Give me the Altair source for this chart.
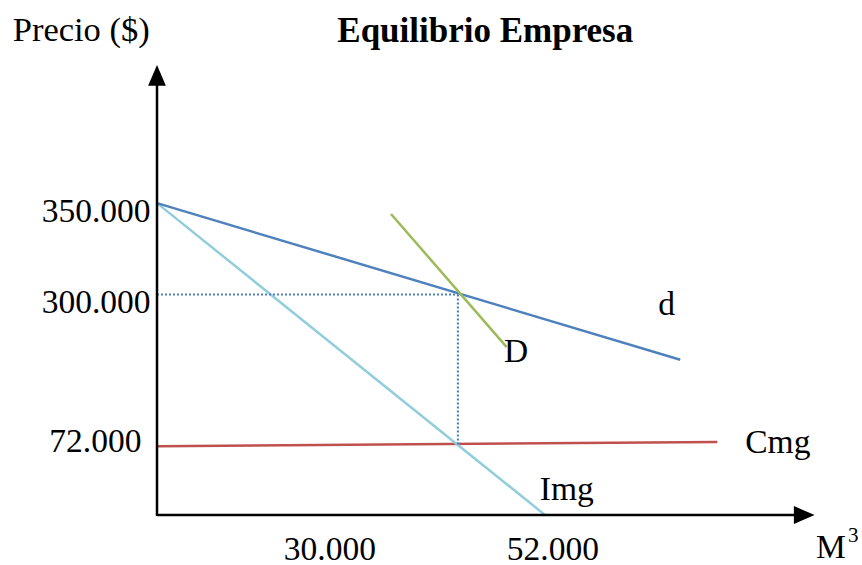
import altair as alt
import pandas as pd

# Schematic coordinates (abstract units: quantity 0-100, price 0-100)
d_x = [0.0, 80.5]
d_y = [69.3, 34.5]
img_x = [0.0, 59.7]
img_y = [69.3, 0.0]
D_x = [36.0, 53.8]
D_y = [66.9, 37.3]
cmg_x = [0.15, 86.2]
cmg_y = [15.3, 16.2]
eq_x = 46.3
eq_y = 49.0
eq_cmg_y = 15.6

y_tick_labels = ["350.000", "300.000", "72.000"]
y_tick_x = [-1.0, -1.0, -2.4]
y_tick_y = [67.3, 47.1, 16.2]
x_tick_labels = ["30.000", "52.000"]
x_tick_x = [26.6, 60.9]
x_tick_y = [-7.8, -7.8]

curve_labels = ["d", "D", "Cmg", "Img"]
curve_label_x = [77.1, 53.4, 90.5, 58.9]
curve_label_y = [46.7, 36.2, 16.0, 5.6]

FONT = "Liberation Serif"
FS = 33.5

xs = alt.Scale(domain=[0, 100], nice=False, zero=False)
ys = alt.Scale(domain=[0, 100], nice=False, zero=False)


def line_layer(xv, yv, color, width=2.5, dash=None):
    df = pd.DataFrame({"x": xv, "y": yv, "o": list(range(len(xv)))})
    kw = dict(color=color, strokeWidth=width, clip=False)
    if dash:
        kw["strokeDash"] = dash
    return alt.Chart(df).mark_line(**kw).encode(
        x=alt.X("x:Q", scale=xs, axis=None),
        y=alt.Y("y:Q", scale=ys, axis=None),
        order="o:Q",
    )


def text_layer(labels, xv, yv, align, size=FS, weight="normal", baseline="middle"):
    df = pd.DataFrame({"t": labels, "x": xv, "y": yv})
    return alt.Chart(df).mark_text(
        font=FONT, fontSize=size, fontWeight=weight, align=align,
        baseline=baseline, color="black"
    ).encode(
        x=alt.X("x:Q", scale=xs, axis=None),
        y=alt.Y("y:Q", scale=ys, axis=None),
        text="t:N",
    )


# axes
y_axis = line_layer([0, 0], [-0.2, 97.0], "black", 2.5)
x_axis = line_layer([0, 99.0], [0, 0], "black", 2.5)
arrows = alt.Chart(pd.DataFrame({
    "x": [0.0, 99.5], "y": [97.6, 0.0],
    "s": ["M0,-1L-0.82,0.91L0.82,0.91Z", "M1,0L-0.91,-0.82L-0.91,0.82Z"],
})).mark_point(filled=True, color="black", opacity=1, size=470, strokeWidth=0).encode(
    x=alt.X("x:Q", scale=xs, axis=None),
    y=alt.Y("y:Q", scale=ys, axis=None),
    shape=alt.Shape("s:N", scale=None, legend=None),
)

layers = [
    line_layer(cmg_x, cmg_y, "#C0504D"),
    line_layer(img_x, img_y, "#92CDDC"),
    line_layer(d_x, d_y, "#4F81BD"),
    line_layer(D_x, D_y, "#9BBB59"),
    line_layer([0, eq_x], [eq_y, eq_y], "#4F81BD", 2.2, [2, 2]),
    line_layer([eq_x, eq_x], [eq_y, eq_cmg_y], "#4F81BD", 2.2, [2, 2]),
    y_axis,
    x_axis,
    arrows,
    text_layer(y_tick_labels, y_tick_x, y_tick_y, "right"),
    text_layer(x_tick_labels, x_tick_x, x_tick_y, "center"),
    text_layer(curve_labels, curve_label_x, curve_label_y, "left"),
    text_layer(["M"], [101.4], [-7.4], "left"),
    text_layer(["3"], [106.3], [-4.7], "left", size=21),
    text_layer(["Precio ($)"], [-22.2], [107.6], "left", size=34.5),
    text_layer(["Equilibrio Empresa"], [50.5], [107.6], "center", size=35, weight="bold"),
]

chart = alt.layer(*layers).properties(
    width=650,
    height=450,
    padding={"left": 157, "top": 65, "right": 55, "bottom": 50},
    autosize=alt.AutoSizeParams(type="none"),
    background="white",
).configure_view(stroke=None)

chart.save("out.html", embed_options={"renderer": "svg", "actions": False})
